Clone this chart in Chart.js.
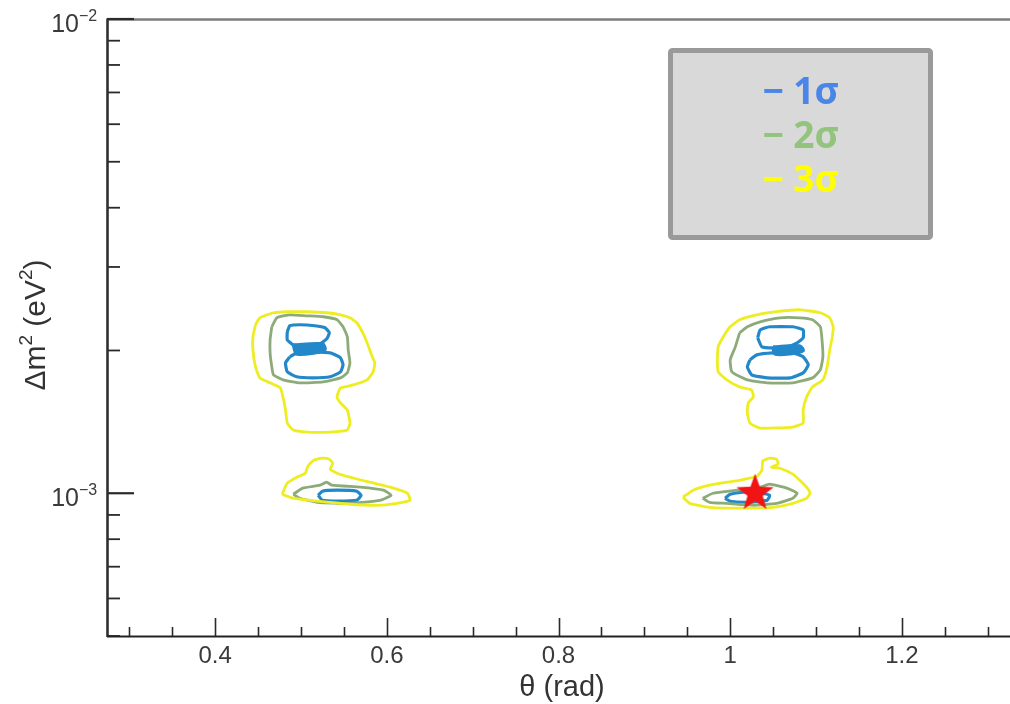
<!DOCTYPE html>
<html>
<head>
<meta charset="utf-8">
<script src="https://cdn.jsdelivr.net/npm/chart.js@4"></script>
<style>
  html, body { margin: 0; padding: 0; background: #ffffff; overflow: hidden; }
  canvas { display: block; }
</style>
</head>
<body>
<canvas id="chart" width="1010" height="704"></canvas>
<script>
// Confidence contours in the (θ, Δm²) plane: vertices as [θ in rad, Δm² in eV²]

// ---- island near θ ≈ 0.52, Δm² ≈ 2e-3 ----
const sigma3LeftUpper = [
  [0.447, 2.266e-3], [0.452, 2.344e-3], [0.468, 2.402e-3], [0.484, 2.414e-3], [0.507, 2.414e-3],
  [0.530, 2.402e-3], [0.546, 2.378e-3], [0.557, 2.344e-3], [0.565, 2.288e-3], [0.572, 2.179e-3],
  [0.577, 2.076e-3], [0.583, 1.939e-3], [0.586, 1.883e-3], [0.584, 1.803e-3], [0.577, 1.734e-3],
  [0.561, 1.692e-3], [0.546, 1.667e-3], [0.542, 1.596e-3], [0.546, 1.550e-3], [0.554, 1.497e-3],
  [0.557, 1.406e-3], [0.554, 1.359e-3], [0.534, 1.346e-3], [0.507, 1.346e-3], [0.491, 1.359e-3],
  [0.484, 1.406e-3], [0.482, 1.497e-3], [0.479, 1.596e-3], [0.476, 1.667e-3], [0.464, 1.709e-3],
  [0.452, 1.751e-3], [0.447, 1.847e-3], [0.444, 2.006e-3], [0.444, 2.137e-3]
];
const sigma2LeftUpper = [
  [0.466, 2.244e-3], [0.472, 2.344e-3], [0.487, 2.378e-3], [0.507, 2.367e-3], [0.526, 2.356e-3],
  [0.542, 2.322e-3], [0.549, 2.244e-3], [0.554, 2.137e-3], [0.555, 2.006e-3], [0.557, 1.883e-3],
  [0.554, 1.794e-3], [0.546, 1.751e-3], [0.526, 1.718e-3], [0.499, 1.709e-3], [0.479, 1.734e-3],
  [0.468, 1.777e-3], [0.466, 1.847e-3], [0.464, 1.977e-3], [0.464, 2.106e-3]
];
const sigma1LeftUpperTop = [
  [0.484, 2.190e-3], [0.487, 2.255e-3], [0.499, 2.266e-3], [0.516, 2.255e-3], [0.528, 2.233e-3],
  [0.533, 2.179e-3], [0.530, 2.117e-3], [0.522, 2.065e-3], [0.505, 2.045e-3], [0.491, 2.055e-3],
  [0.484, 2.106e-3]
];
const sigma1LeftUpperBottom = [
  [0.487, 1.939e-3], [0.482, 1.883e-3], [0.484, 1.803e-3], [0.495, 1.760e-3], [0.514, 1.751e-3],
  [0.534, 1.760e-3], [0.546, 1.803e-3], [0.549, 1.865e-3], [0.546, 1.930e-3], [0.534, 1.977e-3],
  [0.511, 1.987e-3], [0.493, 1.967e-3]
];
const sigma1LeftUpperNeck = [
  [0.491, 2.055e-3], [0.525, 2.065e-3], [0.528, 2.006e-3], [0.516, 1.977e-3], [0.495, 1.967e-3]
];

// ---- island near θ ≈ 0.54, Δm² ≈ 1e-3 ----
const sigma3LeftLower = [
  [0.478, 0.995e-3], [0.484, 1.050e-3], [0.495, 1.081e-3], [0.505, 1.102e-3], [0.508, 1.140e-3],
  [0.515, 1.174e-3], [0.525, 1.186e-3], [0.533, 1.180e-3], [0.537, 1.157e-3], [0.534, 1.124e-3],
  [0.542, 1.102e-3], [0.557, 1.081e-3], [0.580, 1.055e-3], [0.604, 1.030e-3], [0.624, 1.000e-3],
  [0.627, 0.966e-3], [0.612, 0.952e-3], [0.589, 0.943e-3], [0.557, 0.948e-3], [0.519, 0.962e-3],
  [0.491, 0.976e-3]
];
const sigma2LeftLower = [
  [0.491, 0.995e-3], [0.502, 1.025e-3], [0.522, 1.040e-3], [0.530, 1.055e-3], [0.536, 1.040e-3],
  [0.569, 1.030e-3], [0.596, 1.015e-3], [0.605, 0.990e-3], [0.592, 0.966e-3], [0.557, 0.952e-3],
  [0.519, 0.957e-3], [0.499, 0.976e-3]
];
const sigma1LeftLower = [
  [0.520, 0.990e-3], [0.525, 1.010e-3], [0.542, 1.015e-3], [0.565, 1.010e-3], [0.570, 0.990e-3],
  [0.565, 0.966e-3], [0.542, 0.962e-3], [0.525, 0.966e-3]
];

// ---- island near θ ≈ 1.05, Δm² ≈ 2e-3 ----
const sigma3RightUpper = [
  [0.985, 1.911e-3], [0.986, 2.035e-3], [0.992, 2.137e-3], [1.000, 2.244e-3], [1.011, 2.322e-3],
  [1.031, 2.378e-3], [1.054, 2.414e-3], [1.081, 2.437e-3], [1.105, 2.402e-3], [1.116, 2.344e-3],
  [1.120, 2.244e-3], [1.119, 2.137e-3], [1.116, 2.006e-3], [1.113, 1.847e-3], [1.108, 1.734e-3],
  [1.096, 1.676e-3], [1.089, 1.596e-3], [1.085, 1.497e-3], [1.085, 1.406e-3], [1.073, 1.379e-3],
  [1.035, 1.372e-3], [1.023, 1.406e-3], [1.020, 1.476e-3], [1.021, 1.550e-3], [1.027, 1.596e-3],
  [1.025, 1.651e-3], [1.011, 1.676e-3], [0.996, 1.734e-3], [0.986, 1.803e-3]
];
const sigma2RightUpper = [
  [1.011, 2.179e-3], [1.020, 2.244e-3], [1.035, 2.299e-3], [1.058, 2.344e-3], [1.081, 2.344e-3],
  [1.096, 2.322e-3], [1.105, 2.244e-3], [1.107, 2.106e-3], [1.108, 1.939e-3], [1.105, 1.820e-3],
  [1.096, 1.751e-3], [1.073, 1.709e-3], [1.043, 1.709e-3], [1.020, 1.734e-3], [1.002, 1.803e-3],
  [1.000, 1.911e-3], [1.006, 2.035e-3]
];
const sigma1RightUpperTop = [
  [1.032, 2.127e-3], [1.035, 2.211e-3], [1.046, 2.244e-3], [1.073, 2.244e-3], [1.085, 2.211e-3],
  [1.085, 2.127e-3], [1.078, 2.076e-3], [1.066, 2.035e-3], [1.050, 2.025e-3], [1.037, 2.035e-3]
];
const sigma1RightUpperBottom = [
  [1.023, 1.911e-3], [1.020, 1.847e-3], [1.025, 1.777e-3], [1.043, 1.751e-3], [1.070, 1.751e-3],
  [1.085, 1.794e-3], [1.091, 1.865e-3], [1.085, 1.939e-3], [1.073, 1.977e-3], [1.050, 1.977e-3],
  [1.031, 1.958e-3]
];
const sigma1RightUpperNeck = [
  [1.050, 2.035e-3], [1.081, 2.045e-3], [1.085, 1.996e-3], [1.070, 1.967e-3], [1.052, 1.967e-3]
];

// ---- island near θ ≈ 1.03, Δm² ≈ 1e-3 ----
const sigma3RightLower = [
  [0.945, 0.981e-3], [0.957, 1.015e-3], [0.976, 1.040e-3], [0.996, 1.055e-3], [1.011, 1.065e-3],
  [1.031, 1.086e-3], [1.037, 1.118e-3], [1.038, 1.169e-3], [1.046, 1.186e-3], [1.054, 1.180e-3],
  [1.056, 1.152e-3], [1.048, 1.135e-3], [1.058, 1.129e-3], [1.073, 1.097e-3], [1.081, 1.065e-3],
  [1.089, 1.030e-3], [1.093, 1.000e-3], [1.089, 0.976e-3], [1.073, 0.952e-3], [1.050, 0.934e-3],
  [1.015, 0.930e-3], [0.976, 0.934e-3], [0.953, 0.952e-3]
];
const sigma2RightLower = [
  [0.968, 0.976e-3], [0.980, 1.000e-3], [1.008, 1.015e-3], [1.035, 1.030e-3], [1.046, 1.045e-3],
  [1.066, 1.025e-3], [1.078, 1.000e-3], [1.073, 0.976e-3], [1.054, 0.952e-3], [1.027, 0.943e-3],
  [0.996, 0.952e-3], [0.976, 0.957e-3]
];
const sigma1RightLower = [
  [0.994, 0.976e-3], [1.000, 0.995e-3], [1.015, 1.005e-3], [1.035, 1.000e-3], [1.046, 0.990e-3],
  [1.043, 0.966e-3], [1.020, 0.957e-3], [1.000, 0.962e-3]
];

// best-fit point
const bestFit = [[1.029, 1.0e-3]];

// axes
const xRange = [0.274, 1.326];
const yRange = [5e-4, 1e-2];
const xMajorTicks = [0.4, 0.6, 0.8, 1.0, 1.2];
const xTickLabels = ['0.4', '0.6', '0.8', '1', '1.2'];
const yDecadeExponents = [-3, -2];
const xTitle = 'θ (rad)';

// legend entries
const sigmaLabels = ['1σ', '2σ', '3σ'];
const sigmaLegendColors = ['#4a86e8', '#93c47d', '#ffff00'];
const sigmaLineColors = ['#2388c9', '#8cab79', '#eded22'];
const sigmaLineWidths = [3.2, 2.8, 2.8];

const toXY = pts => pts.map(p => ({ x: p[0], y: p[1] }));
const loop = pts => toXY(pts.concat([pts[0]]));

function contour(label, pts, level, extra) {
  return Object.assign({
    label,
    data: loop(pts),
    showLine: true,
    fill: false,
    borderColor: sigmaLineColors[level],
    borderWidth: sigmaLineWidths[level],
    pointRadius: 0,
    pointHoverRadius: 0,
    tension: 0.15,
    order: 3 - level
  }, extra || {});
}

// filled five-pointed star for the best-fit marker
function makeStar(R, r, color) {
  const cv = document.createElement('canvas');
  const size = Math.ceil(2 * R + 4);
  cv.width = size; cv.height = size;
  const g = cv.getContext('2d');
  const cx = size / 2, cy = size / 2;
  g.beginPath();
  for (let i = 0; i < 10; i++) {
    const rad = i % 2 === 0 ? R : r;
    const a = -Math.PI / 2 + i * Math.PI / 5;
    const px = cx + rad * Math.cos(a), py = cy + rad * Math.sin(a);
    if (i === 0) g.moveTo(px, py); else g.lineTo(px, py);
  }
  g.closePath();
  g.fillStyle = color;
  g.fill();
  return cv;
}
const starImage = makeStar(19.5, 8, '#f01414');

const datasets = [
  {
    label: 'best fit',
    data: toXY(bestFit),
    showLine: false,
    pointStyle: starImage,
    pointRadius: 19,
    order: 0
  },
  contour('3σ', sigma3LeftUpper, 2),
  contour('3σ', sigma3LeftLower, 2),
  contour('3σ', sigma3RightUpper, 2),
  contour('3σ', sigma3RightLower, 2),
  contour('2σ', sigma2LeftUpper, 1),
  contour('2σ', sigma2LeftLower, 1),
  contour('2σ', sigma2RightUpper, 1),
  contour('2σ', sigma2RightLower, 1),
  contour('1σ', sigma1LeftUpperTop, 0),
  contour('1σ', sigma1LeftUpperBottom, 0),
  contour('1σ', sigma1LeftLower, 0),
  contour('1σ', sigma1RightUpperTop, 0),
  contour('1σ', sigma1RightUpperBottom, 0),
  contour('1σ', sigma1RightLower, 0),
  contour('1σ', sigma1LeftUpperNeck, 0, { fill: 'shape', backgroundColor: sigmaLineColors[0], tension: 0.3 }),
  contour('1σ', sigma1RightUpperNeck, 0, { fill: 'shape', backgroundColor: sigmaLineColors[0], tension: 0.3 })
];

const FONT = '"Liberation Sans", Arial, Helvetica, sans-serif';

// frame, inward ticks, tick labels and axis titles
const frame = {
  id: 'frame',
  afterDraw(chart) {
    const c = chart.ctx;
    const a = chart.chartArea;
    const xs = chart.scales.x, ys = chart.scales.y;
    c.save();

    // top border
    c.strokeStyle = '#7c7c7c';
    c.lineWidth = 2.5;
    c.beginPath(); c.moveTo(a.left, a.top + 0.5); c.lineTo(a.right, a.top + 0.5); c.stroke();

    // x ticks
    c.strokeStyle = '#2a2a2a';
    c.lineWidth = 1.6;
    for (let v = 0.3; v <= xRange[1] + 1e-9; v += 0.05) {
      const vv = Math.round(v * 100) / 100;
      const isMajor = xMajorTicks.some(m => Math.abs(m - vv) < 1e-6);
      const px = Math.round(xs.getPixelForValue(vv)) + 0.5;
      c.beginPath();
      c.moveTo(px, a.bottom);
      c.lineTo(px, a.bottom - (isMajor ? 18 : 9));
      c.stroke();
    }

    // y ticks
    for (let e = -4; e <= -2; e++) {
      for (let k = 1; k <= 9; k++) {
        const v = k * Math.pow(10, e);
        if (v < yRange[0] * 0.999 || v > yRange[1] * 1.001) continue;
        const py = ys.getPixelForValue(v);
        c.lineWidth = k === 1 ? 2.2 : 1.8;
        c.beginPath();
        c.moveTo(a.left, py);
        c.lineTo(a.left + (k === 1 ? 27 : 13), py);
        c.stroke();
      }
    }

    // left and bottom axis lines
    c.strokeStyle = '#303030';
    c.lineWidth = 2.6;
    c.beginPath(); c.moveTo(a.left + 0.5, a.top - 0.5); c.lineTo(a.left + 0.5, a.bottom + 1); c.stroke();
    c.strokeStyle = '#222222';
    c.lineWidth = 2;
    c.beginPath(); c.moveTo(a.left, a.bottom + 0.5); c.lineTo(a.right, a.bottom + 0.5); c.stroke();

    // x tick labels
    c.fillStyle = '#3a3a3a';
    c.font = '24px ' + FONT;
    c.textAlign = 'center';
    c.textBaseline = 'alphabetic';
    xMajorTicks.forEach((v, i) => {
      c.fillText(xTickLabels[i], xs.getPixelForValue(v), a.bottom + 27);
    });

    // y tick labels: 10 with superscript exponent
    yDecadeExponents.forEach(e => {
      const py = ys.getPixelForValue(Math.pow(10, e));
      c.font = '25px ' + FONT;
      c.textAlign = 'right';
      c.fillText('10', 79, py + 12.5);
      c.font = '16px ' + FONT;
      c.textAlign = 'left';
      c.fillText('\u2212' + Math.abs(e), 79, py + 2);
    });

    // x title
    c.font = '29px ' + FONT;
    c.textAlign = 'center';
    c.fillStyle = '#333333';
    c.fillText(xTitle, 562, 696);

    // y title: Δm² (eV²), rotated
    c.save();
    c.translate(45, 325);
    c.rotate(-Math.PI / 2);
    const parts = [
      ['\u0394m', 30, 0], ['2', 19, -13], [' (eV', 30, 0], ['2', 19, -13], [')', 30, 0]
    ];
    let total = 0;
    parts.forEach(p => { c.font = p[1] + 'px ' + FONT; total += c.measureText(p[0]).width; });
    let xx = -total / 2;
    c.textAlign = 'left';
    parts.forEach(p => {
      c.font = p[1] + 'px ' + FONT;
      c.fillText(p[0], xx, p[2]);
      xx += c.measureText(p[0]).width;
    });
    c.restore();

    c.restore();
  }
};

// grey legend box with σ levels
const sigmaLegend = {
  id: 'sigmaLegend',
  afterDraw(chart) {
    const c = chart.ctx;
    c.save();
    const x0 = 670.5, y0 = 50.5, w = 260, h = 187;
    c.fillStyle = '#d9d9d9';
    c.strokeStyle = '#9a9a9a';
    c.lineWidth = 5;
    c.beginPath();
    c.roundRect(x0, y0, w, h, 2);
    c.fill();
    c.stroke();
    c.font = 'bold 37px "Open Sans", "Noto Sans", sans-serif';
    c.textAlign = 'center';
    c.textBaseline = 'alphabetic';
    sigmaLabels.forEach((lab, i) => {
      c.fillStyle = sigmaLegendColors[i];
      c.fillText('\u2212 ' + lab, x0 + w / 2, 104 + i * 44);
    });
    c.restore();
  }
};

new Chart(document.getElementById('chart'), {
  type: 'scatter',
  data: { datasets },
  options: {
    responsive: false,
    animation: false,
    devicePixelRatio: 1,
    layout: { autoPadding: false, padding: { top: 19, right: 0, bottom: 0, left: 0 } },
    plugins: {
      legend: { display: false },
      tooltip: { enabled: false },
      title: { display: false }
    },
    events: [],
    scales: {
      x: {
        type: 'linear',
        min: xRange[0],
        max: xRange[1],
        ticks: { display: false },
        grid: { display: false },
        border: { display: false },
        afterFit: s => { s.height = 68; }
      },
      y: {
        type: 'logarithmic',
        min: yRange[0],
        max: yRange[1],
        ticks: { display: false },
        grid: { display: false },
        border: { display: false },
        afterFit: s => { s.width = 107; }
      }
    }
  },
  plugins: [frame, sigmaLegend]
});
</script>
</body>
</html>
